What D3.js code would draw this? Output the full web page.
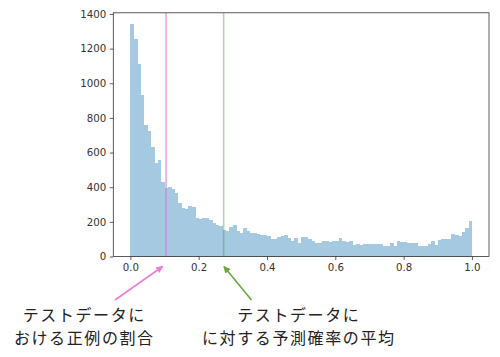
<!DOCTYPE html>
<html>
<head>
<meta charset="utf-8">
<script src="https://cdn.jsdelivr.net/npm/d3@7"></script>
<style>
  html, body { margin: 0; padding: 0; background: #fff; }
  svg { display: block; }
</style>
</head>
<body>
<svg id="chart" width="500" height="357"></svg>
<script>
// ---- data ----
const binStart = 0.0;
const binWidth = 0.01;
const counts = [
  1340, 1255, 1110, 930, 760, 725, 630, 540, 560, 430,
  395, 403, 388, 365, 308, 280, 273, 292, 285, 221,
  217, 225, 225, 211, 192, 183, 177, 155, 150, 170,
  180, 145, 135, 162, 150, 138, 135, 131, 125, 124,
  118, 100, 100, 115, 121, 124, 106, 90, 108, 78,
  110, 112, 100, 88, 80, 77, 90, 87, 86, 87,
  88, 105, 87, 86, 88, 65, 70, 68, 72, 70,
  72, 70, 73, 72, 63, 62, 76, 63, 87, 84,
  82, 80, 80, 76, 62, 60, 62, 70, 88, 67,
  98, 100, 100, 100, 131, 125, 119, 144, 164, 207
];
const xTicks = [0.0, 0.2, 0.4, 0.6, 0.8, 1.0];
const yTicks = [0, 200, 400, 600, 800, 1000, 1200, 1400];
const positiveRate = 0.1045;   // pink line
const meanProb = 0.273;        // green line
const labelLeft = ["テストデータに", "おける正例の割合"];
const labelRight = ["テストデータに", "に対する予測確率の平均"];

// ---- layout ----
const L = 113.3, R = 489, T = 12.8, B = 256.5;
const svg = d3.select("#chart");
const x = d3.scaleLinear().domain([-0.05, 1.05]).range([L, R]);
const y = d3.scaleLinear().domain([0, 1407]).range([B, T]);

// bars
svg.append("g").selectAll("rect").data(counts).join("rect")
  .attr("x", (d, i) => x(binStart + i * binWidth))
  .attr("width", (d, i) => x(binStart + (i + 1) * binWidth) - x(binStart + i * binWidth) + 0.3)
  .attr("y", d => y(d))
  .attr("height", d => y(0) - y(d))
  .attr("fill", "#a5c9e1")
  .attr("shape-rendering", "crispEdges");

// vertical lines
svg.append("line")
  .attr("x1", x(positiveRate)).attr("x2", x(positiveRate))
  .attr("y1", T).attr("y2", B)
  .attr("stroke", "#e070dc").attr("stroke-opacity", 0.65).attr("stroke-width", 1.6);
svg.append("line")
  .attr("x1", x(meanProb)).attr("x2", x(meanProb))
  .attr("y1", T).attr("y2", B)
  .attr("stroke", "#3a9a3a").attr("stroke-opacity", 0.4).attr("stroke-width", 1.6);

// axes
const axFont = "DejaVu Sans, sans-serif";
const xAxis = svg.append("g").attr("transform", `translate(0,${B})`)
  .call(d3.axisBottom(x).tickValues(xTicks).tickFormat(d3.format(".1f")).tickSize(3.5).tickPadding(3.5));
const yAxis = svg.append("g").attr("transform", `translate(${L},0)`)
  .call(d3.axisLeft(y).tickValues(yTicks).tickFormat(d3.format("d")).tickSize(3.5).tickPadding(3.5));
[xAxis, yAxis].forEach(g => {
  g.select(".domain").remove();
  g.selectAll("line").attr("stroke", "#333").attr("stroke-width", 0.8);
  g.selectAll("text").attr("font-family", axFont).attr("font-size", 10.2).attr("fill", "#333");
});

// frame
svg.append("rect")
  .attr("x", L).attr("y", T).attr("width", R - L).attr("height", B - T)
  .attr("fill", "none").attr("stroke", "#333").attr("stroke-width", 0.8);

// arrows
const defs = svg.append("defs");
function marker(id, color) {
  defs.append("marker").attr("id", id)
    .attr("viewBox", "0 0 10 10").attr("refX", 9).attr("refY", 5)
    .attr("markerWidth", 7).attr("markerHeight", 7)
    .attr("markerUnits", "userSpaceOnUse")
    .attr("orient", "auto")
    .append("path").attr("d", "M0,0 L10,5 L0,10 z").attr("fill", color);
}
marker("arrPink", "#f07ad8");
marker("arrGreen", "#6aa83e");
svg.append("line")
  .attr("x1", 115).attr("y1", 300)
  .attr("x2", x(positiveRate) - 3.5).attr("y2", 266.5)
  .attr("stroke", "#f07ad8").attr("stroke-width", 1.6)
  .attr("marker-end", "url(#arrPink)");
svg.append("line")
  .attr("x1", 251.5).attr("y1", 300)
  .attr("x2", x(meanProb) + 0.3).attr("y2", 266.5)
  .attr("stroke", "#6aa83e").attr("stroke-width", 1.6)
  .attr("marker-end", "url(#arrGreen)");

// annotation texts (one text element per line)
const jpFont = "'Noto Sans CJK JP', 'Noto Sans CJK SC', sans-serif";
function label(lines, cx) {
  lines.forEach((s, i) => {
    svg.append("text").attr("text-anchor", "middle")
      .attr("font-family", jpFont).attr("font-size", 16).attr("letter-spacing", 1.6)
      .attr("fill", "#222")
      .attr("x", cx + 0.8).attr("y", 320.5 + i * 23.3).text(s);
  });
}
label(labelLeft, 83.5);
label(labelRight, 298);
</script>
</body>
</html>
